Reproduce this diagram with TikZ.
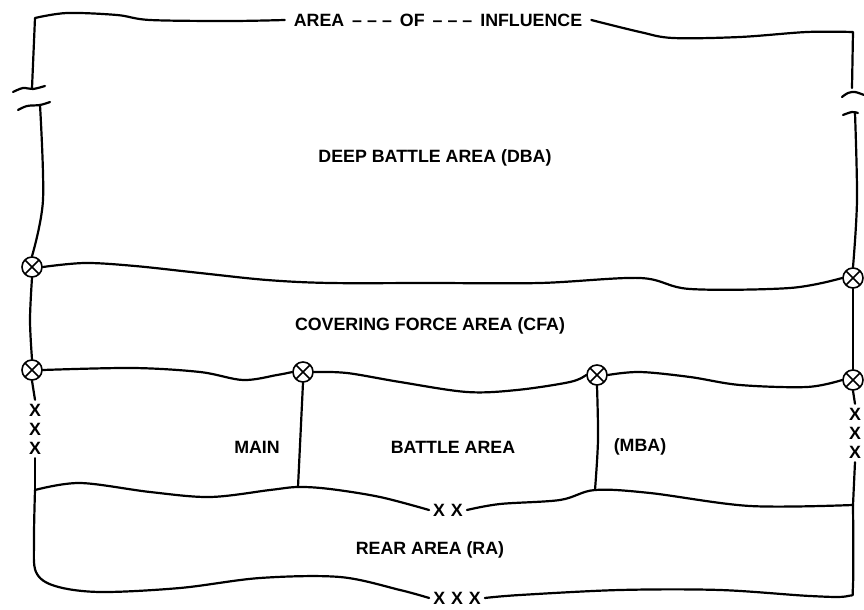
\documentclass[tikz,border=0pt]{standalone}
\usepackage{fontspec}
\setmainfont{Liberation Sans}
\usepackage{tikz}

\newcommand{\dashes}{\hspace{4pt}\textendash\hspace{2.5pt}\textendash\hspace{2.5pt}\textendash\hspace{4pt}}

\begin{document}
\begin{tikzpicture}[x=0.5pt,y=-0.5pt,line width=1.1pt,line cap=round,line join=round,
    font=\bfseries\fontsize{8.9}{10}\selectfont,
    cpt/.style={circle,draw,fill=white,inner sep=0pt,minimum size=10pt,line width=0.8pt,
      path picture={\draw[line width=0.8pt]
        (path picture bounding box.north west) -- (path picture bounding box.south east)
        (path picture bounding box.north east) -- (path picture bounding box.south west);}},
    xmk/.style={inner sep=1.5pt},
    wave/.style={smooth,tension=0.55}]
   \useasboundingbox (0,0) rectangle (864,610);

   % contact points
   \node[cpt] (l1) at (32,267) {};
   \node[cpt] (l2) at (32,370) {};
   \node[cpt] (m1) at (303,372) {};
   \node[cpt] (m2) at (597,375) {};
   \node[cpt] (r1) at (853,278) {};
   \node[cpt] (r2) at (853,380) {};

   % labels
   \node[inner sep=4pt] (aoi) at (438,20) {AREA\dashes OF\dashes INFLUENCE};
   \node (dba) at (435,158) {DEEP BATTLE AREA (DBA)};
   \node (cfa) at (430,326) {COVERING FORCE AREA (CFA)};
   \node (main) at (257,447) {MAIN};
   \node (mba) at (453,447) {BATTLE AREA};
   \node (mbb) at (640,447) {(MBA)};
   \node (ra) at (430,550) {REAR AREA (RA)};
   \node[xmk] (xx) at (448,510) {X\,\,X};
   \node[xmk] (xxx) at (457,598) {X\,\,X\,\,X};

   % boundary marks
   \foreach \y [count=\n] in {410,429,448}
      \node[xmk] (lx\n) at (35,\y) {X};
   \foreach \y [count=\n] in {414,433,452}
      \node[xmk] (rx\n) at (855,\y) {X};

   \coordinate (bl) at (35,490);
   \coordinate (bm1) at (298,487);
   \coordinate (bm2) at (595,490);
   \coordinate (br) at (853,505);

   % area of influence
   \draw plot[wave] coordinates {(aoi.west) (230,21) (150,20) (117,15) (67,13) (35,18)}
      -- (32,88);
   \draw plot[wave] coordinates {(13,92) (23,88) (33,89) (45,86)};
   \draw plot[wave] coordinates {(18,110) (27,106) (40,105) (50,102)};
   \draw plot[wave] coordinates {(40,105) (43,200) (l1.north)};
   \draw plot[wave] coordinates {(aoi.east) (640,32) (673,38) (740,37) (807,32) (853,32)}
      -- (852,88);
   \draw plot[wave] coordinates {(842,97) (848,93) (855,92) (864,95)};
   \draw plot[wave] coordinates {(843,115) (852,112) (858,113)};
   \draw plot[wave] coordinates {(855,113) (857,200) (r1.north)};

   % deep battle area / covering force area
   \draw plot[wave] coordinates {(l1.east) (85,263) (135,266) (200,273) (267,280)
      (330,283) (430,283) (540,283) (640,278) (690,289) (790,288) (r1.west)};
   \draw plot[wave] coordinates {(l1.south) (30,320) (l2.north)};
   \draw (r1.south) -- (r2.north);

   % main battle area
   \draw plot[wave] coordinates {(l2.east) (133,368) (200,372) (243,380) (277,375) (m1.west)};
   \draw plot[wave] coordinates {(m1.east) (347,373) (400,382) (467,392) (517,390)
      (570,382) (m2.west)};
   \draw plot[wave] coordinates {(m2.east) (640,372) (690,377) (740,385) (807,387)
      (r2.west)};
   \draw (m1.south) -- (bm1);
   \draw plot[wave] coordinates {(m2.south) (598,440) (bm2)};
   \draw (l2.south) -- (lx1.north);
   \draw (lx3.south) -- (bl);
   \draw (r2.south) -- (rx1.north);
   \draw (rx3.south) -- (br);

   % rear area
   \draw plot[wave] coordinates {(bl) (80,483) (150,492) (210,497) (270,490) (bm1)
      (330,489) (380,497) (xx.west)};
   \draw plot[wave] coordinates {(xx.east) (500,504) (560,500) (bm2) (650,493)
      (750,506) (br)};
   \draw plot[wave] coordinates {(bl) (34,540) (36,572) (55,586) (100,592) (180,588)
      (260,578) (340,577) (400,590) (xxx.west)};
   \draw plot[wave] coordinates {(xxx.east) (520,595) (620,590) (720,590) (810,596)
      (848,596) (853,585) (br)};
\end{tikzpicture}
\end{document}
